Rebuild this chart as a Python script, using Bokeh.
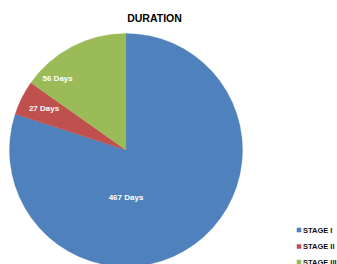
import math
from bokeh.plotting import figure
from bokeh.models import Range1d, ColumnDataSource
from bokeh.core.properties import value
from bokeh.embed import file_html
from bokeh.resources import INLINE

# ---- data ----
stages = ["STAGE I", "STAGE II", "STAGE III"]
days = [467, 27, 56]
# share of the pie as drawn in the picture (percent)
shares = [80.0, 4.8, 15.2]
title_text = "DURATION"

# ---- styles / layout ----
colors = ["#4F81BD", "#C0504D", "#9BBB59"]
label_angle_deg = [270.0, 153.0, 133.7]
label_radius = [47.0, 92.0, 99.0]

W, H = 337, 264
cx, cy, R = 125.5, 114.5, 116.5

p = figure(width=W, height=H, output_backend="svg", toolbar_location=None,
           x_range=Range1d(0, W), y_range=Range1d(0, H), min_border=0,
           tools="")
p.axis.visible = False
p.xgrid.visible = False
p.ygrid.visible = False
p.outline_line_color = None
p.background_fill_color = "white"
p.border_fill_color = "white"

total = sum(shares)
starts, ends = [], []
cum = 0.0
for s in shares:
    starts.append(math.pi / 2 - 2 * math.pi * cum / total)
    cum += s
    ends.append(math.pi / 2 - 2 * math.pi * cum / total)

src = ColumnDataSource(dict(start=starts, end=ends, color=colors, stage=stages))
p.wedge(x=cx, y=cy, radius=R, start_angle="start", end_angle="end",
        direction="clock", fill_color="color", line_color="color",
        line_width=0.3, source=src)

lx = [cx + r * math.cos(math.radians(a)) for a, r in zip(label_angle_deg, label_radius)]
ly = [cy + r * math.sin(math.radians(a)) for a, r in zip(label_angle_deg, label_radius)]
labels = [f"{d} Days" for d in days]
p.text(x=lx, y=ly, text=labels, text_color="white", text_font=value("Liberation Sans"),
       text_font_style="bold", text_font_size="8px", text_align="center",
       text_baseline="middle")

# title
p.text(x=[154], y=[247], text=[title_text], text_color="black",
       text_font=value("Liberation Sans"), text_font_style="bold",
       text_font_size="10.5px", text_align="center", text_baseline="middle")

# legend
leg_y = [34.5, 18.0, 2.5]
p.rect(x=[298.5] * 3, y=leg_y, width=4.5, height=4.5, fill_color=colors, line_color=None)
p.text(x=[302.5] * 3, y=leg_y, text=stages, text_color="#111111",
       text_font=value("Liberation Sans"), text_font_style="bold",
       text_font_size="7.5px", text_align="left", text_baseline="middle")

open("out.html", "w").write(file_html(p, INLINE))
